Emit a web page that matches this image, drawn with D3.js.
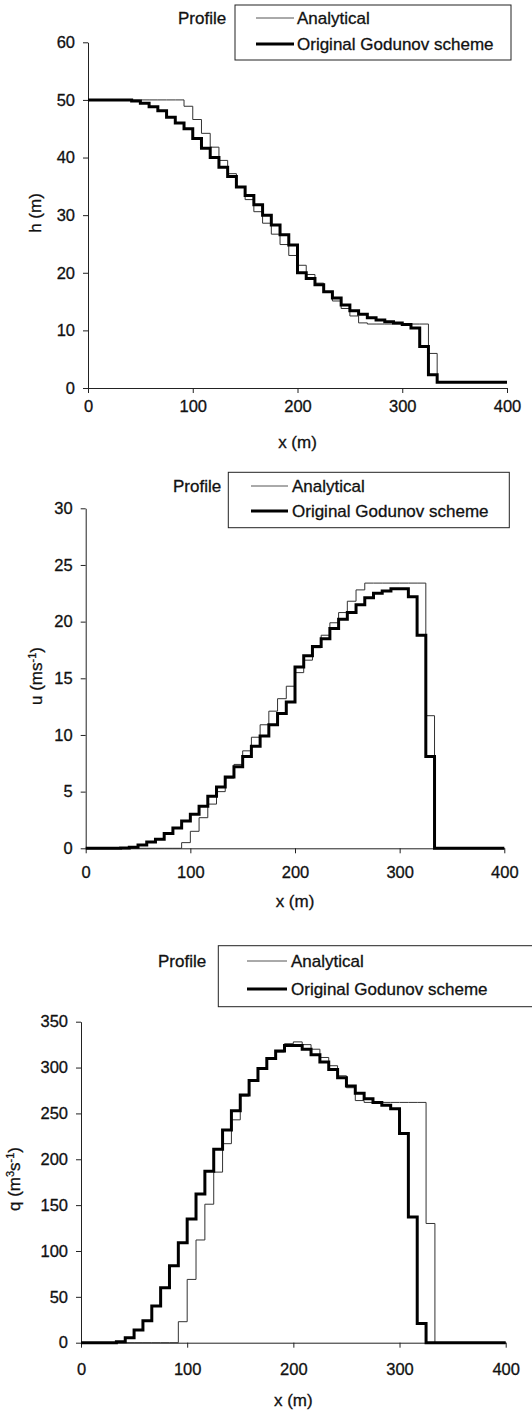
<!DOCTYPE html>
<html>
<head>
<meta charset="utf-8">
<script src="https://cdn.jsdelivr.net/npm/d3@7"></script>
<style>
  body { margin: 0; background: #fff; }
  svg { display: block; }
  text { font-family: "Liberation Sans", Arial, sans-serif; fill: #111; stroke: #111; stroke-width: 0.3px; }
</style>
</head>
<body>
<svg id="chart" width="532" height="1411"></svg>
<script>
// cell left edges (m), last value closes the domain
const cellX = [0, 8.33, 16.67, 25, 33.33, 41.67, 50, 58.33, 66.67, 75, 83.33, 91.67,
  100, 108.33, 116.67, 125, 133.33, 141.67, 150, 158.33, 166.67, 175, 183.33, 191.67,
  200, 208.33, 216.67, 225, 233.33, 241.67, 250, 258.33, 266.67, 275, 283.33, 291.67,
  300, 308.33, 316.67, 325, 333.33, 341.67, 350, 358.33, 366.67, 375, 383.33, 391.67, 400];

const xTicks = [0, 100, 200, 300, 400];
const seriesNames = ["Analytical", "Original Godunov scheme"];

// depth h (m)
const hAnalytical = [50, 50, 50, 50, 50, 50, 50, 50, 50, 50, 50, 48.9,
  46.6, 44.2, 41.8, 39.5, 37.2, 34.9, 32.7, 30.6, 28.6, 26.7, 24.9, 23.0,
  21.3, 19.7, 18.2, 16.6, 15.1, 13.8, 12.5, 11.3, 11.1, 11.1, 11.1, 11.1,
  11.1, 11.1, 11.1, 6.0, 1, 1, 1, 1, 1, 1, 1, 1];
const hGodunov = [50, 50, 50, 50, 50, 49.8, 49.4, 48.8, 48.1, 47.0, 46.0, 45.0,
  43.3, 41.6, 40.0, 38.3, 36.7, 34.9, 33.4, 31.8, 30.0, 28.3, 26.6, 24.8,
  20.0, 19.0, 17.9, 16.7, 15.6, 14.4, 13.4, 12.8, 12.2, 11.8, 11.5, 11.3,
  11.0, 10.4, 7.2, 2.3, 1, 1, 1, 1, 1, 1, 1, 1];
const hTicks = [0, 10, 20, 30, 40, 50, 60];

// velocity u (m/s)
const uAnalytical = [0, 0, 0, 0, 0, 0, 0, 0, 0, 0, 0, 0.5,
  1.5, 2.7, 3.9, 5.0, 6.2, 7.4, 8.6, 9.8, 10.9, 12.1, 13.2, 14.3,
  15.5, 16.6, 17.7, 18.8, 19.9, 20.8, 21.8, 22.8, 23.4, 23.4, 23.4, 23.4,
  23.4, 23.4, 23.4, 11.7, 0, 0, 0, 0, 0, 0, 0, 0];
const uGodunov = [0, 0, 0, 0, 0.02, 0.1, 0.3, 0.55, 0.8, 1.3, 1.8, 2.4,
  3.0, 3.7, 4.6, 5.4, 6.3, 7.2, 8.1, 9.0, 9.9, 10.9, 11.9, 12.9,
  16.0, 17.0, 17.8, 18.5, 19.4, 20.2, 20.8, 21.5, 22.1, 22.5, 22.7, 22.9,
  22.9, 22.2, 18.8, 8.1, 0, 0, 0, 0, 0, 0, 0, 0];
const uTicks = [0, 5, 10, 15, 20, 25, 30];

// discharge q (m3/s)
const qAnalytical = [0, 0, 0, 0, 0, 0, 0, 0, 0, 0, 0, 22.9,
  69, 112, 151, 186, 217, 243, 269, 286, 298, 310, 317, 326,
  328, 325, 320, 311, 302, 291, 278, 264, 262, 262, 262, 262,
  262, 262, 262, 130, 0, 0, 0, 0, 0, 0, 0, 0];
const qGodunov = [0, 0, 0, 0, 1.1, 5.5, 13.8, 24, 40, 60, 84, 109,
  135, 162, 187, 211, 232, 253, 270, 286, 299, 310, 318, 324,
  324, 320, 314, 306, 298, 289, 280, 272, 266, 262, 259, 255,
  228, 137, 21, 0, 0, 0, 0, 0, 0, 0, 0, 0];
const qTicks = [0, 50, 100, 150, 200, 250, 300, 350];

const panels = [
  { a: hAnalytical, g: hGodunov, ticks: hTicks, x0: 88, x1: 507, yBot: 388, yTop: 42.3,
    xPad: 7, xTitleY: 442, yTitleX: 35, yTitleY: 213, yTitle: [["h (m)"]],
    legend: { profX: 178, box: [235, 5, 511, 60], lineX: [256, 294], rowY: [18, 44], textX: 297 } },
  { a: uAnalytical, g: uGodunov, ticks: uTicks, x0: 85.7, x1: 504.3, yBot: 848.3, yTop: 508.3,
    xPad: 13, xTitleY: 901, yTitleX: 36, yTitleY: 676, yTitle: [["u (ms"], ["-1", "sup"], [")"]],
    legend: { profX: 173, box: [228.3, 472.3, 509.3, 527.7], lineX: [251, 288], rowY: [486, 511], textX: 292 } },
  { a: qAnalytical, g: qGodunov, ticks: qTicks, x0: 81, x1: 505.7, yBot: 1342.7, yTop: 1021.7,
    xPad: 16, xTitleY: 1400, yTitleX: 14, yTitleY: 1179, yTitle: [["q (m"], ["3", "sup"], ["s"], ["-1", "sup"], [")"]],
    legend: { profX: 158, box: [218.3, 945.7, 545, 1006.7], lineX: [247, 287], rowY: [961, 989], textX: 291 } }
];

const svg = d3.select("#chart");

panels.forEach(p => {
  const x = d3.scaleLinear().domain([0, 400]).range([p.x0, p.x1]);
  const y = d3.scaleLinear().domain([0, d3.max(p.ticks)]).range([p.yBot, p.yTop]);
  const g = svg.append("g");

  // axes
  g.append("g")
    .attr("transform", `translate(0,${p.yBot})`)
    .call(d3.axisBottom(x).tickValues(xTicks).tickSize(5).tickPadding(p.xPad).tickSizeOuter(0))
    .call(a => a.selectAll("text").style("font-size", "16.5px"));
  g.append("g")
    .attr("transform", `translate(${p.x0},0)`)
    .call(d3.axisLeft(y).tickValues(p.ticks).tickSize(5).tickPadding(8).tickSizeOuter(0))
    .call(a => a.selectAll("text").style("font-size", "16.5px"));
  g.selectAll(".domain, .tick line").attr("stroke", "#222").attr("stroke-width", 1);

  // step lines: value of each cell held from its left edge
  const line = d3.line()
    .x(d => x(d[0]))
    .y(d => y(d[1]))
    .curve(d3.curveStepAfter);
  const pts = vals => vals.map((v, i) => [cellX[i], v]).concat([[cellX[vals.length], vals[vals.length - 1]]]);

  g.append("path").attr("d", line(pts(p.a)))
    .attr("fill", "none").attr("stroke", "#333").attr("stroke-width", 1);
  g.append("path").attr("d", line(pts(p.g)))
    .attr("fill", "none").attr("stroke", "#000").attr("stroke-width", 3);

  // axis titles
  g.append("text").attr("x", (p.x0 + p.x1) / 2).attr("y", p.xTitleY).attr("dy", "0.35em")
    .attr("text-anchor", "middle").style("font-size", "17px").text("x (m)");
  const yt = g.append("text")
    .attr("transform", `translate(${p.yTitleX},${p.yTitleY}) rotate(-90)`)
    .attr("dy", "0.35em").attr("text-anchor", "middle").style("font-size", "17px");
  p.yTitle.forEach(([t, kind]) => {
    const s = yt.append("tspan").text(t);
    if (kind === "sup") s.attr("baseline-shift", "super").style("font-size", "11px");
  });

  // legend
  const L = p.legend;
  g.append("text").attr("x", L.profX).attr("y", L.rowY[0]).attr("dy", "0.35em")
    .style("font-size", "17px").text("Profile");
  g.append("rect").attr("x", L.box[0]).attr("y", L.box[1])
    .attr("width", L.box[2] - L.box[0]).attr("height", L.box[3] - L.box[1])
    .attr("fill", "none").attr("stroke", "#222").attr("stroke-width", 1);
  seriesNames.forEach((name, i) => {
    g.append("line").attr("x1", L.lineX[0]).attr("x2", L.lineX[1])
      .attr("y1", L.rowY[i]).attr("y2", L.rowY[i])
      .attr("stroke", i ? "#000" : "#555").attr("stroke-width", i ? 3 : 1);
    g.append("text").attr("x", L.textX).attr("y", L.rowY[i]).attr("dy", "0.35em")
      .style("font-size", "17px").text(name);
  });
});
</script>
</body>
</html>
